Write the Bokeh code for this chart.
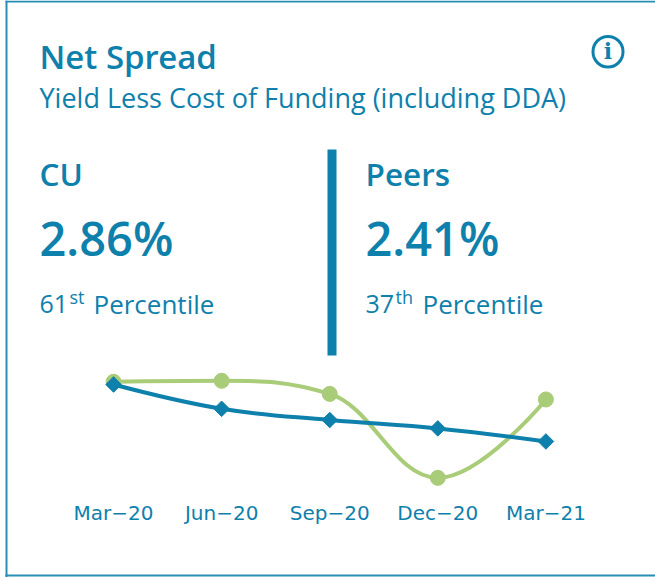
import math
from bokeh.plotting import figure
from bokeh.models import Label, BoxAnnotation, FixedTicker, Range1d
from bokeh.embed import file_html
from bokeh.resources import INLINE

months = ["Mar\u221220", "Jun\u221220", "Sep\u221220", "Dec\u221220", "Mar\u221221"]
quarter_index = [0, 1, 2, 3, 4]
cu_series = [3.05, 3.06, 2.92, 2.02, 2.86]
peer_series = [3.02, 2.76, 2.64, 2.55, 2.41]

title_text = "Net Spread"
subtitle_text = "Yield Less Cost of Funding (including DDA)"
left_name, left_value, left_rank, left_suffix = "CU", "2.86%", "61", "st"
right_name, right_value, right_rank, right_suffix = "Peers", "2.41%", "37", "th"
rank_word = "Percentile"

BLUE = "#0e80ac"
EDGE = "#2a8db5"
GREEN = "#a9cc78"
FONT = "Open Sans"
SEMI = "Open Sans SemiBold"
W, H = 655, 577

# the plot frame fills the whole card so that the header texts can be placed inside it
p = figure(width=W, height=H, output_backend="svg", toolbar_location=None,
           x_range=Range1d(-1.046, 5.014), y_range=Range1d(0.952, 7.136),
           min_border_left=0, min_border_right=0, min_border_top=0, min_border_bottom=0,
           outline_line_color=None, background_fill_color="white", border_fill_color="white")
p.styles = {"position": "absolute", "left": "0px", "top": "0px"}
p.grid.visible = False
p.yaxis.visible = False
ax = p.xaxis[0]
ax.ticker = FixedTicker(ticks=quarter_index)
ax.major_label_overrides = dict(zip(quarter_index, months))
ax.axis_line_color = None
ax.major_tick_line_color = None
ax.minor_tick_line_color = None
ax.major_label_text_color = BLUE
ax.major_label_text_font = "DejaVu Sans"
ax.major_label_text_font_size = "20px"
ax.major_label_standoff = -83
ax.major_label_orientation = "horizontal"


def spline(values):
    """Highcharts-style spline segments through the values (one bezier per pair)."""
    n = len(values)
    xs = quarter_index
    s = 1.5
    lc = [None] * n
    rc = [None] * n
    for i in range(1, n - 1):
        lx = (s * xs[i] + xs[i - 1]) / (s + 1)
        ly = (s * values[i] + values[i - 1]) / (s + 1)
        rx = (s * xs[i] + xs[i + 1]) / (s + 1)
        ry = (s * values[i] + values[i + 1]) / (s + 1)
        c = (ry - ly) * (rx - xs[i]) / (rx - lx) + values[i] - ry
        ly += c
        ry += c
        if ly > values[i - 1] and ly > values[i]:
            ly = max(values[i - 1], values[i]); ry = 2 * values[i] - ly
        elif ly < values[i - 1] and ly < values[i]:
            ly = min(values[i - 1], values[i]); ry = 2 * values[i] - ly
        if ry > values[i + 1] and ry > values[i]:
            ry = max(values[i + 1], values[i]); ly = 2 * values[i] - ry
        elif ry < values[i + 1] and ry < values[i]:
            ry = min(values[i + 1], values[i]); ly = 2 * values[i] - ry
        lc[i] = (lx, ly)
        rc[i] = (rx, ry)
    d = dict(x0=[], y0=[], x1=[], y1=[], cx0=[], cy0=[], cx1=[], cy1=[])
    for i in range(n - 1):
        a = rc[i] or (xs[i], values[i])
        b = lc[i + 1] or (xs[i + 1], values[i + 1])
        d["x0"].append(xs[i]); d["y0"].append(values[i])
        d["x1"].append(xs[i + 1]); d["y1"].append(values[i + 1])
        d["cx0"].append(a[0]); d["cy0"].append(a[1])
        d["cx1"].append(b[0]); d["cy1"].append(b[1])
    return d


p.bezier(source=spline(cu_series), x0="x0", y0="y0", x1="x1", y1="y1", cx0="cx0", cy0="cy0",
         cx1="cx1", cy1="cy1", line_color=GREEN, line_width=4)
p.scatter(quarter_index, cu_series, marker="circle", size=15, fill_color=GREEN, line_color=GREEN)
p.bezier(source=spline(peer_series), x0="x0", y0="y0", x1="x1", y1="y1", cx0="cx0", cy0="cy0",
         cx1="cx1", cy1="cy1", line_color=BLUE, line_width=4)
p.scatter(quarter_index, peer_series, marker="square", angle=math.pi / 4, size=11, fill_color=BLUE, line_color=BLUE)


def box(l, r, t, b, **kw):
    p.add_layout(BoxAnnotation(left=l, right=r, top=H - t, bottom=H - b, left_units="screen",
                               right_units="screen", top_units="screen", bottom_units="screen", **kw))


def text(x, y, s, size, style="normal", font=FONT, align="left"):
    p.add_layout(Label(x=x - 1, y=H - y + 0.42 * size, x_units="screen", y_units="screen", text=s, text_color=BLUE,
                       text_font=font, text_font_size=f"{size}px", text_font_style=style,
                       text_baseline="alphabetic", text_align=align))


# frame of the card
box(5, 7, 0, 577, fill_color=EDGE, fill_alpha=1, line_color=None)
box(5, 655, 0, 2, fill_color=EDGE, fill_alpha=1, line_color=None)
box(5, 655, 574, 576, fill_color=EDGE, fill_alpha=1, line_color=None)
# divider
box(327, 336, 149, 355, fill_color=BLUE, fill_alpha=1, line_color=None)
# info icon
box(592.5, 622.5, 36, 66.5, fill_color=None, line_color=BLUE, line_alpha=1, line_width=3, border_radius=15)
text(608.5, 60, "i", 22, "bold", "DejaVu Serif", "center")

text(40, 70, title_text, 33, "normal", SEMI)
text(40, 108, subtitle_text, 27)
for x0, name, val, rank, suf, word_dx in [(40, left_name, left_value, left_rank, left_suffix, 54),
                                          (366, right_name, right_value, right_rank, right_suffix, 57)]:
    text(x0, 186.5, name, 31.5, "normal", SEMI)
    text(x0, 257.5, val, 47, "normal", SEMI)
    text(x0, 314, rank, 25)
    text(x0 + 30, 304, suf, 18)
    text(x0 + word_dx, 314, rank_word, 26)

open("out.html", "w").write(file_html(p, INLINE))
